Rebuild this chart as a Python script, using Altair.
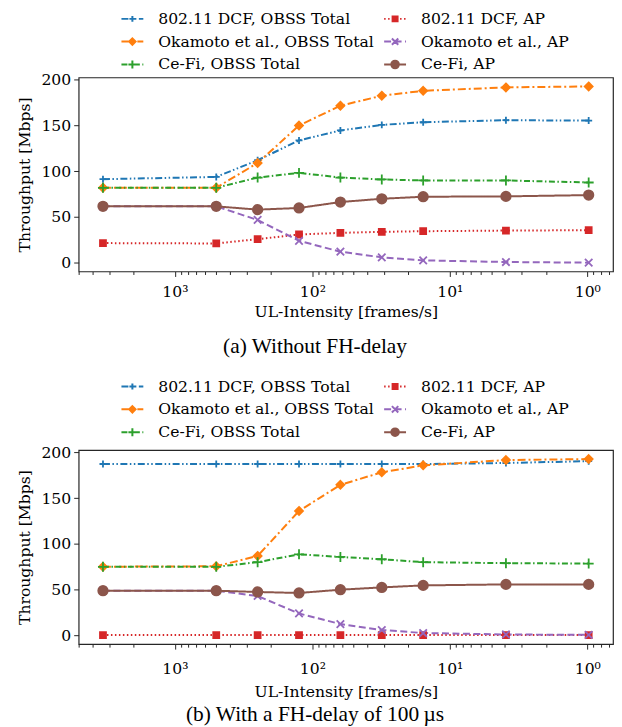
import altair as alt
import pandas as pd

# ---------------- data ----------------
x_vals = [3333.3, 500, 250, 125, 62.5, 31.25, 15.625, 3.906, 0.977]

series = ["802.11 DCF, OBSS Total", "Okamoto et al., OBSS Total", "Ce-Fi, OBSS Total",
          "802.11 DCF, AP", "Okamoto et al., AP", "Ce-Fi, AP"]

# (a) Without FH-delay
a_dcf_obss = [91.3, 93.8, 112.0, 133.7, 144.6, 150.7, 153.6, 155.8, 155.4]
a_oka_obss = [82.0, 82.0, 109.0, 150.0, 171.7, 182.6, 188.0, 191.7, 192.8]
a_cefi_obss = [81.9, 81.9, 93.1, 98.2, 93.1, 91.0, 89.9, 89.9, 87.7]
a_dcf_ap = [21.4, 21.0, 25.7, 30.8, 32.6, 33.7, 34.4, 35.1, 35.5]
a_oka_ap = [61.6, 61.6, 46.7, 23.9, 12.0, 5.8, 2.5, 0.7, 0.0]
a_cefi_ap = [61.6, 61.6, 58.0, 59.8, 66.3, 69.9, 72.1, 72.5, 73.9]

# (b) With a FH-delay of 100 us
b_dcf_obss = [187.4, 187.4, 187.4, 187.4, 187.4, 187.4, 187.3, 188.5, 190.5]
b_oka_obss = [75.0, 75.5, 86.8, 136.0, 164.6, 178.3, 185.9, 191.7, 192.8]
b_cefi_obss = [74.9, 74.9, 80.0, 88.6, 85.7, 83.2, 80.0, 78.9, 78.5]
b_dcf_ap = [0.3, 0.3, 0.3, 0.3, 0.3, 0.3, 0.3, 0.3, 0.3]
b_oka_ap = [48.8, 48.8, 43.0, 23.9, 12.3, 5.8, 2.5, 0.9, 0.5]
b_cefi_ap = [48.8, 48.8, 47.4, 46.3, 49.9, 52.4, 54.6, 55.7, 55.7]

x_ticks = [0.7, 0.8, 0.9, 1, 2, 3, 4, 5, 6, 7, 8, 9, 10, 20, 30, 40, 50, 60, 70, 80, 90,
           100, 200, 300, 400, 500, 600, 700, 800, 900, 1000, 2000, 3000, 4000, 5000]
y_ticks = [0, 50, 100, 150, 200]

# ---------------- styles ----------------
colors = ["#1f77b4", "#ff7f0e", "#2ca02c", "#d62728", "#9467bd", "#8c564b"]
dashes = [[7, 2.5, 1.5, 2.5, 1.5, 2.5], [8, 3, 2, 3], [6, 2.5, 1.5, 2.5],
          [1.5, 2.5], [7, 3.5], None]

marker_paths = [
    "M-0.7,0L0.7,0M0,-0.7L0,0.7",
    "M0,-0.8L0.8,0L0,0.8L-0.8,0Z",
    "M-1,0L1,0M0,-1L0,1",
    "M-0.6,-0.6L0.6,-0.6L0.6,0.6L-0.6,0.6Z",
    "M-0.75,-0.75L0.75,0.75M-0.75,0.75L0.75,-0.75",
    "M0.95,0A0.95,0.95,0,1,1,-0.95,0A0.95,0.95,0,1,1,0.95,0Z",
]

U = 7.0  # legend symbol unit in px (sqrt(196)/2)
HANDLE = 22.0


def fmt(v):
    return f"{v / U:.3f}"


def dash_path(pattern):
    half = HANDLE / 2
    if pattern is None:
        return f"M{fmt(-half)},0L{fmt(half)},0"
    out, pos, i = [], -half, 0
    while pos < half:
        end = min(pos + pattern[i % len(pattern)], half)
        if i % 2 == 0:
            out.append(f"M{fmt(pos)},0L{fmt(end)},0")
        pos, i = end, i + 1
    return "".join(out)


def plus(h):
    return f"M{fmt(-h)},0L{fmt(h)},0M0,{fmt(-h)}L0,{fmt(h)}"


def square(h):
    return f"M{fmt(-h)},{fmt(-h)}L{fmt(h)},{fmt(-h)}L{fmt(h)},{fmt(h)}L{fmt(-h)},{fmt(h)}Z"


def diamond(h):
    return f"M0,{fmt(-h)}L{fmt(h)},0L0,{fmt(h)}L{fmt(-h)},0Z"


def xmark(h):
    return f"M{fmt(-h)},{fmt(-h)}L{fmt(h)},{fmt(h)}M{fmt(-h)},{fmt(h)}L{fmt(h)},{fmt(-h)}"


def circle(r):
    return f"M{fmt(r)},0A{fmt(r)},{fmt(r)},0,1,1,{fmt(-r)},0A{fmt(r)},{fmt(r)},0,1,1,{fmt(r)},0Z"


legend_markers = [plus(3), diamond(3.2), plus(4), square(2.5), xmark(3.2), circle(3.8)]
legend_paths = [dash_path(d) + m for d, m in zip(dashes, legend_markers)]
dash_range = [d if d is not None else [1, 0] for d in dashes]


def make_df(cols):
    rows = []
    for name, vals in zip(series, cols):
        for xv, yv in zip(x_vals, vals):
            rows.append({"x": xv, "y": yv, "series": name})
    return pd.DataFrame(rows)


df_a = make_df([a_dcf_obss, a_oka_obss, a_cefi_obss, a_dcf_ap, a_oka_ap, a_cefi_ap])
df_b = make_df([b_dcf_obss, b_oka_obss, b_cefi_obss, b_dcf_ap, b_oka_ap, b_cefi_ap])

FONT = "DejaVu Serif"
FS = 15.7
label_expr = ("datum.value==1000?'10³':datum.value==100?'10²':"
              "datum.value==10?'10¹':datum.value==1?'10⁰':''")


def panel(df, caption, legend_y, label_pad, title_pad, cap_offset):
    base = alt.Chart(df)
    x = alt.X("x:Q",
              scale=alt.Scale(type="log", domain=[0.65, 5010], reverse=True, nice=False, zero=False),
              axis=alt.Axis(values=x_ticks, labelExpr=label_expr, labelOverlap=False, labelFlush=False,
                            tickSize={"condition": {"test": "indexof([1,10,100,1000], datum.value) >= 0",
                                                    "value": 5}, "value": 3},
                            grid=False, domain=False, labelFont=FONT, labelFontSize=FS,
                            titleFont=FONT, titleFontSize=FS, titleFontWeight="normal",
                            labelColor="black", titleColor="black", tickColor="#262626",
                            labelPadding=label_pad, titlePadding=title_pad),
              title="UL-Intensity [frames/s]")
    y = alt.Y("y:Q",
              scale=alt.Scale(domain=[-9.65, 202.6], nice=False, zero=False),
              axis=alt.Axis(values=y_ticks, grid=False, domain=False, tickSize=5,
                            labelFont=FONT, labelFontSize=FS, titleFont=FONT, titleFontSize=FS,
                            titleFontWeight="normal", labelColor="black", titleColor="black",
                            tickColor="#262626", labelPadding=3, titlePadding=8),
              title="Throughput [Mbps]")
    cscale = alt.Scale(domain=series, range=colors)
    lines = base.mark_line(strokeWidth=2).encode(
        x=x, y=y,
        color=alt.Color("series:N", scale=cscale, legend=None),
        strokeDash=alt.StrokeDash("series:N", scale=alt.Scale(domain=series, range=dash_range), legend=None),
    )
    pts = base.mark_point(size=100, strokeWidth=1.8, opacity=1).encode(
        x=x, y=y,
        fill=alt.Fill("series:N", scale=cscale, legend=None),
        stroke=alt.Stroke("series:N", scale=cscale, legend=None),
        shape=alt.Shape("series:N", scale=alt.Scale(domain=series, range=marker_paths), legend=None),
    )
    leg = alt.Legend(title=None, orient="none", legendX=46, legendY=legend_y, columns=2,
                     symbolSize=196, symbolStrokeWidth=2, symbolOpacity=1,
                     labelFont=FONT, labelFontSize=FS, labelColor="black", labelLimit=0,
                     labelOffset=18, columnPadding=6, rowPadding=7.0, padding=0)
    legl = base.mark_point(opacity=1).encode(
        x=x, y=y,
        fill=alt.Fill("series:N", scale=cscale, legend=leg),
        stroke=alt.Stroke("series:N", scale=cscale, legend=leg),
        shape=alt.Shape("series:N", scale=alt.Scale(domain=series, range=legend_paths), legend=leg),
    ).transform_filter("false")
    return alt.layer(lines, pts, legl).resolve_scale(
        fill="independent", stroke="independent", shape="independent"
    ).properties(
        width=537, height=195,
        title=alt.TitleParams(caption, orient="bottom", frame="bounds", font="Liberation Serif",
                              fontSize=21.5, fontWeight="normal", color="black", offset=cap_offset),
    )


chart = alt.vconcat(
    panel(df_a, "(a) Without FH-delay", -67, 8, 6, 17),
    panel(df_b, "(b) With a FH-delay of 100\u2009\u00b5s", -72, 13, 8, 5),
    spacing=18.5,
).configure_view(stroke="#262626", strokeWidth=1.2).properties(padding={"left": 8, "top": 0, "right": 0, "bottom": 0})

chart.save("out.html", embed_options={"renderer": "svg", "actions": False})
